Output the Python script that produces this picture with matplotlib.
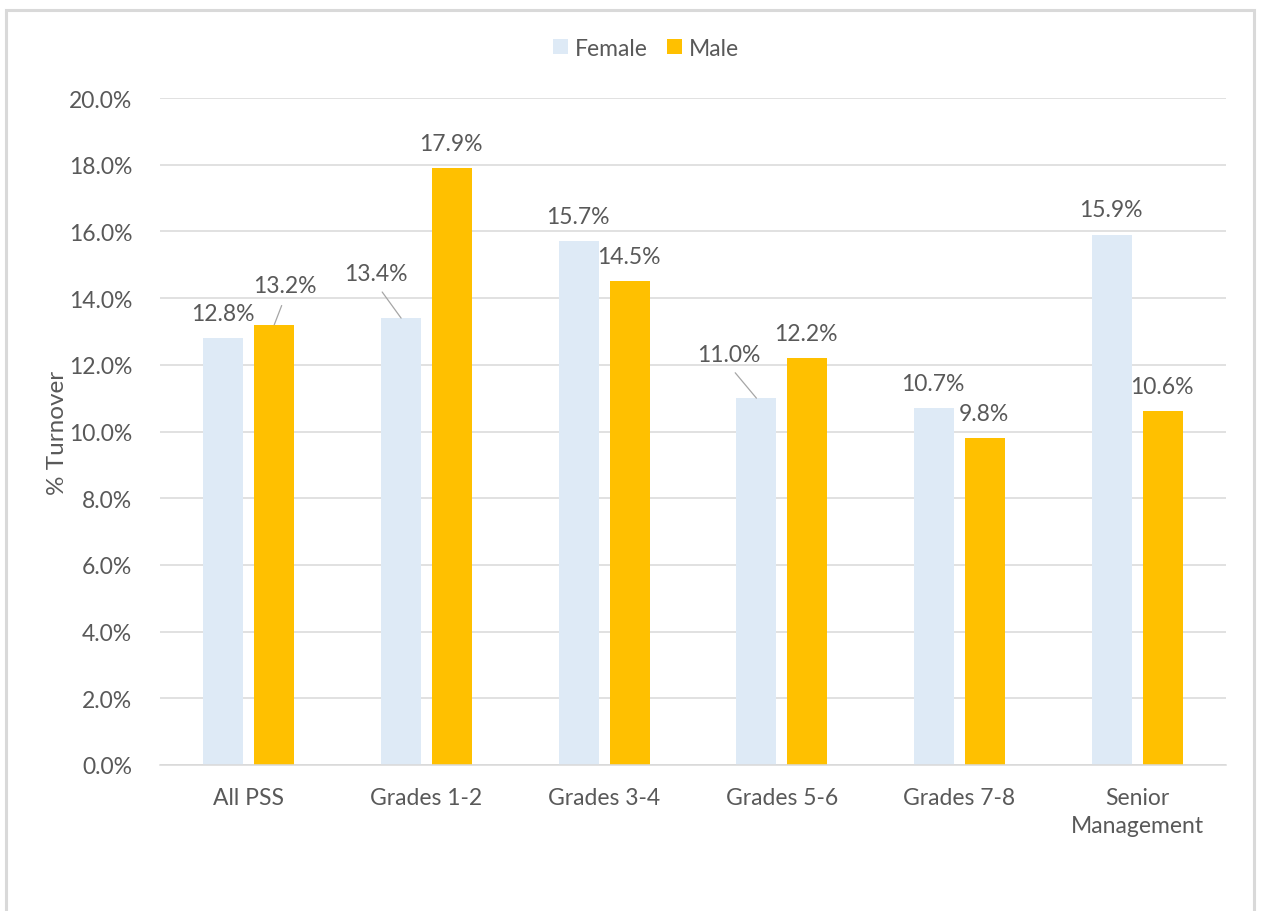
import matplotlib
matplotlib.use("Agg")
import matplotlib.pyplot as plt
from matplotlib.patches import Rectangle, Patch
import numpy as np

# Turnover rates by grade band
categories = ["All PSS", "Grades 1-2", "Grades 3-4", "Grades 5-6", "Grades 7-8", "Senior\nManagement"]
female = [12.8, 13.4, 15.7, 11.0, 10.7, 15.9]
male = [13.2, 17.9, 14.5, 12.2, 9.8, 10.6]
y_ticks = [0, 2, 4, 6, 8, 10, 12, 14, 16, 18, 20]

FEMALE_C = "#DEEAF6"
MALE_C = "#FFC000"
TEXT_C = "#595959"
GRID_C = "#D9D9D9"
FONT = "Lato"
FS = 16.5

plt.rcParams["font.family"] = [FONT, "DejaVu Sans"]

W, H = 1261, 912
fig = plt.figure(figsize=(W / 100, H / 100), dpi=100)

# outer chart border
fig.patches.append(Rectangle((6 / W, -0.05), (1254 - 6) / W, 1.05 - 11 / H,
                             transform=fig.transFigure, fill=False,
                             edgecolor=GRID_C, linewidth=2.2, zorder=0))

ax = fig.add_axes([160 / W, 1 - 766 / H, (1226 - 160) / W, (766 - 99) / H])

x = np.arange(len(categories))
off = 0.143
bw = 0.225
fb = ax.bar(x - off, female, bw, color=FEMALE_C, zorder=3)
mb = ax.bar(x + off, male, bw, color=MALE_C, zorder=3)

ax.set_xlim(-0.5, len(categories) - 0.5)
ax.set_ylim(0, 20)
ax.set_yticks(y_ticks)
ax.set_yticklabels([f"{v:.1f}%" for v in y_ticks])
ax.set_xticks(x)
ax.set_xticklabels(categories, linespacing=1.42)
ax.tick_params(axis="both", length=0, labelsize=FS, colors=TEXT_C)
ax.tick_params(axis="y", pad=20)
ax.tick_params(axis="x", pad=16)
ax.grid(axis="y", color=GRID_C, linewidth=1.1, zorder=0)
for s in ["top", "right", "left"]:
    ax.spines[s].set_visible(False)
ax.spines["bottom"].set_color(GRID_C)
ax.spines["bottom"].set_linewidth(1.1)
ax.spines["bottom"].set_zorder(4)

# value labels; a few are moved aside with a leader line
moved = {("f", 1): (-25, 45), ("m", 0): (11, 39), ("f", 3): (-28, 44)}
for key, bars, vals in (("f", fb, female), ("m", mb, male)):
    for i, (b, v) in enumerate(zip(bars, vals)):
        cx = b.get_x() + b.get_width() / 2
        if (key, i) in moved:
            dx, dy = moved[(key, i)]
            ax.annotate(f"{v:.1f}%", xy=(cx, v), xytext=(dx, dy),
                        textcoords="offset pixels", ha="center", va="center",
                        fontsize=FS, color=TEXT_C,
                        arrowprops=dict(arrowstyle="-", color="#A6A6A6", lw=0.9,
                                        relpos=(0.5, 0.0), shrinkA=5, shrinkB=0))
        else:
            ax.annotate(f"{v:.1f}%", xy=(cx, v), xytext=(-1, 25),
                        textcoords="offset pixels", ha="center", va="center",
                        fontsize=FS, color=TEXT_C)

ax.set_ylabel("% Turnover", fontsize=17.5, color=TEXT_C, va="center")
ax.yaxis.set_label_coords(-(160 - 57) / (1226 - 160), 0.5)

handles = [Patch(facecolor=FEMALE_C, edgecolor="none", label="Female"),
           Patch(facecolor=MALE_C, edgecolor="none", label="Male")]
fig.legend(handles=handles, loc="center", bbox_to_anchor=(646 / W, 1 - 49 / H),
           ncol=2, frameon=False, fontsize=FS, labelcolor=TEXT_C,
           handlelength=0.65, handleheight=0.65, handletextpad=0.3,
           columnspacing=0.85)

fig.savefig("out.png", dpi=100, facecolor="white")
